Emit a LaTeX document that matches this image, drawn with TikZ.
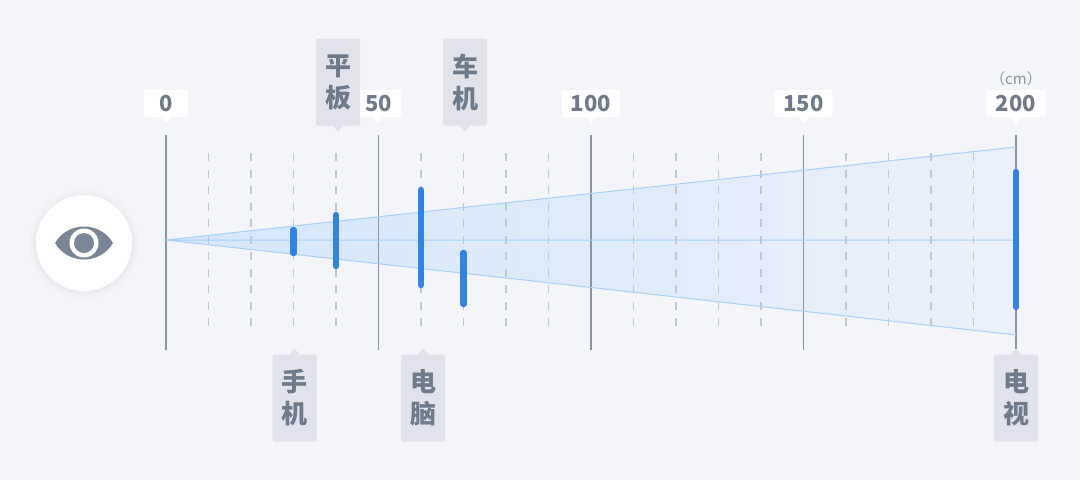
\documentclass[tikz,border=0pt]{standalone}
\usepackage{fontspec}
\setmainfont{Noto Sans CJK SC}
\usetikzlibrary{positioning}
\definecolor{bgc}{HTML}{F4F5F9}
\definecolor{axisc}{HTML}{8A93A1}
\definecolor{dashc}{HTML}{C3C7CF}
\definecolor{conec}{HTML}{A9D1FB}
\definecolor{conel}{HTML}{D4E7FA}
\definecolor{coner}{HTML}{EBF0F8}
\definecolor{barc}{HTML}{3384E0}
\definecolor{tagc}{HTML}{E1E2EA}
\definecolor{txtc}{HTML}{6F7B8B}
\definecolor{unitc}{HTML}{8A94A3}
\definecolor{eyec}{HTML}{7A8596}

\begin{document}
\begin{tikzpicture}[x=1pt, y=-1pt,
    tick/.style = {fill=white, rounded corners=2pt, minimum width=44pt, minimum height=27pt,
                   inner xsep=9pt, inner ysep=0pt, text=txtc, font=\fontsize{22}{22}\selectfont\bfseries},
    tag/.style = {fill=tagc, rounded corners=2pt, minimum width=44pt, minimum height=87pt,
                  inner sep=0pt, align=center, text=txtc, font=\fontsize{26}{32}\selectfont\bfseries},
    bar/.style = {draw=barc, line width=6.5pt, line cap=round}]
    \fill[bgc] (0,0) rectangle (1080,480);
    \useasboundingbox (0,0) rectangle (1080,480);

    % eye
    \foreach \r in {49,50.5,52,53.5,55}
        \fill[black, opacity=0.008] (84,244) circle (\r);
    \node[circle, fill=white, minimum size=96pt] (eye) at (84,243) {};
    \fill[eyec] (55,243) .. controls (68,221) and (100,221) .. (113,243)
                         .. controls (100,265) and (68,265) .. (55,243);
    \fill[white] (eye.center) circle (14.5);
    \fill[eyec] (eye.center) circle (10);

    % viewing cone
    \coordinate (apex) at (166,240);
    \coordinate (ctop) at (1016,147);
    \coordinate (cbot) at (1016,335);
    \coordinate (cmid) at (1016,240);
    \shade[left color=conel, right color=coner] (apex) -- (ctop) -- (cbot) -- cycle;

    % grid
    \foreach \d in {10,20,30,40,60,70,80,90,110,120,130,140,160,170,180,190}
        \draw[dashc, line width=1.2pt, dash pattern=on 8pt off 8.5pt] ({166+4.25*\d},153) -- ({166+4.25*\d},330);
    \foreach \v in {0,50,100,150,200} {
        \draw[axisc, line width=1.2pt] ({166+4.25*\v},135) -- ({166+4.25*\v},350);
        \node[tick] (n\v) at ({166+4.25*\v},103.5) {\v};
        \fill[white] (n\v.south) ++(-5,0) -- ++(5,6) -- ++(5,-6) -- cycle;
    }
    \node[inner sep=0pt, text=unitc, font=\fontsize{15}{15}\selectfont, above=4pt of n200] (unit) {（cm）};

    \draw[conec, line width=1pt] (ctop) -- (apex) -- (cbot) (apex) -- (cmid);

    % devices
    \draw[bar] (293.5,230) -- (293.5,253);
    \draw[bar] (336,215) -- (336,266);
    \draw[bar] (421,190) -- (421,285);
    \draw[bar] (463.5,253) -- (463.5,304);
    \draw[bar] (1016,172) -- (1016,307);

    \node[tag] (pb) at (338,82) {平\\板};
    \node[tag] (cj) at (465,82) {车\\机};
    \node[tag] (sj) at (294.5,398) {手\\机};
    \node[tag] (dn) at (423,398) {电\\脑};
    \node[tag] (ds) at (1016,398) {电\\视};
    \foreach \n in {pb,cj}
        \fill[tagc] (\n.south) ++(-5,0) -- ++(5,6) -- ++(5,-6) -- cycle;
    \foreach \n in {sj,dn,ds}
        \fill[tagc] (\n.north) ++(-5,0) -- ++(5,-6) -- ++(5,6) -- cycle;
\end{tikzpicture}
\end{document}
